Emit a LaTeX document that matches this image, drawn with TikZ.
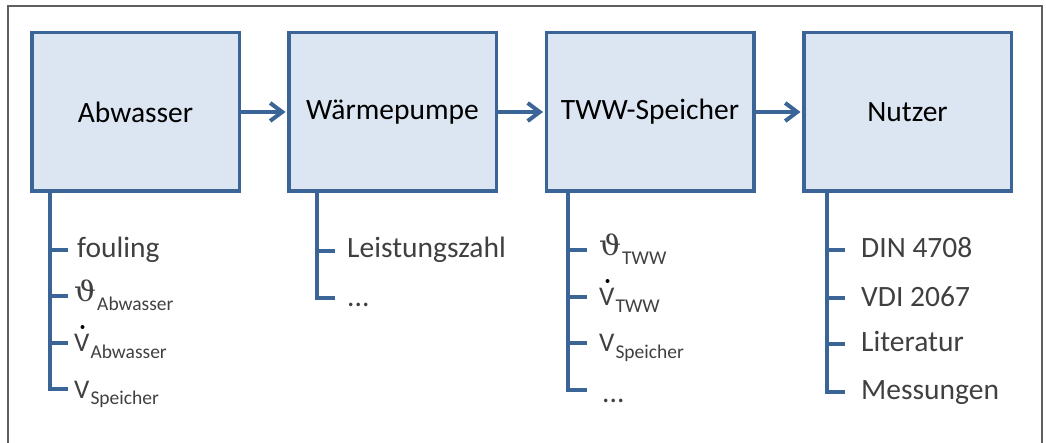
\documentclass[tikz,border=0pt]{standalone}
\usepackage{fontspec}
\setmainfont{Carlito}
\newfontfamily\thetafont{DejaVu Serif}
\usepackage{graphicx}
\usetikzlibrary{arrows.meta}

\definecolor{boxline}{HTML}{3B6497}
\definecolor{boxfill}{HTML}{DCE6F2}
\definecolor{leaftext}{HTML}{404040}
\definecolor{framegray}{HTML}{5F5F5F}

% symbols used in the parameter lists
\newcommand\leafV{{\fontsize{27}{27}\selectfont V}}
\newcommand\leaftheta{\scalebox{1.1}[1]{\thetafont\fontsize{28}{28}\selectfont ϑ}}
\newcommand\leafsub[2][6.5pt]{\kern1pt\raisebox{-#1}{\fontsize{19.5}{20}\selectfont #2}}

\begin{document}
\begin{tikzpicture}[x=1pt,y=-1pt,
  stage/.style={draw=boxline, fill=boxfill, line width=3.5pt,
    minimum width=207.5pt, minimum height=158.5pt, inner sep=0pt,
    font=\fontsize{29.5}{30}\selectfont, text=black},
  flow/.style={draw=boxline, line width=4pt, shorten >=1.5pt,
    -{Straight Barb[length=12pt,width=18pt,line width=4pt]}},
  trunk/.style={draw=boxline, line width=4pt, line join=miter, line cap=butt},
  leaf/.style={anchor=base west, inner sep=0pt, text=leaftext,
    font=\fontsize{29.5}{30}\selectfont},
  rate dot/.style={fill=black, radius=2pt}]

\useasboundingbox (0,0) rectangle (1046,443);

% outer frame (its lower edge lies below the visible area)
\draw[framegray, line width=1.5pt] (8,460) -- (8,6) -- (1042,6) -- (1042,460);

% process stages
\node[stage] (b1) at (135.5,112) {Abwasser};
\node[stage] (b2) at (392.5,112) {Wärmepumpe};
\node[stage] (b3) at (650,112)   {TWW-Speicher};
\node[stage] (b4) at (907.5,112) {Nutzer};

\draw[flow] (b1.east) -- (b2.west);
\draw[flow] (b2.east) -- (b3.west);
\draw[flow] (b3.east) -- (b4.west);

% --- Abwasser
\coordinate (a1) at (50,250);
\coordinate (a2) at (50,296);
\coordinate (a3) at (50,343);
\coordinate (a4) at (50,389);
\draw[trunk] (b1.south -| a4) -- (a4) -- ++(18,0);
\draw[trunk] (a1) -- ++(18,0);
\draw[trunk] (a2) -- ++(18,0);
\draw[trunk] (a3) -- ++(18,0);
\node[leaf] (a1t) at (77,258) {fouling};
\node[leaf] (a2t) at (74,302) {\leaftheta\leafsub[9pt]{Abwasser}};
\node[leaf] (a3t) at (74,352) {\leafV\leafsub{Abwasser}};
\node[leaf] (a4t) at (74,398) {\leafV\leafsub{Speicher}};
\fill[rate dot] (a3t.base west) ++(8.5,-25) circle;

% --- Wärmepumpe
\coordinate (w1) at (317,251);
\coordinate (w2) at (317,298);
\draw[trunk] (b2.south -| w2) -- (w2) -- ++(18,0);
\draw[trunk] (w1) -- ++(18,0);
\node[leaf] (w1t) at (347,258) {Leistungszahl};
\node[leaf] (w2t) at (347,307) {...};

% --- TWW-Speicher
\coordinate (s1) at (568,250);
\coordinate (s2) at (568,297);
\coordinate (s3) at (568,343);
\coordinate (s4) at (568,390);
\draw[trunk] (b3.south -| s4) -- (s4) -- ++(19,0);
\draw[trunk] (s1) -- ++(19,0);
\draw[trunk] (s2) -- ++(19,0);
\draw[trunk] (s3) -- ++(19,0);
\node[leaf] (s1t) at (599,256) {\leaftheta\leafsub[9pt]{TWW}};
\node[leaf] (s2t) at (599,306) {\leafV\leafsub{TWW}};
\node[leaf] (s3t) at (599,352) {\leafV\leafsub{Speicher}};
\node[leaf] (s4t) at (602,402) {...};
\fill[rate dot] (s2t.base west) ++(8.5,-25) circle;

% --- Nutzer
\coordinate (n1) at (827,250);
\coordinate (n2) at (827,298);
\coordinate (n3) at (827,344);
\coordinate (n4) at (827,392);
\draw[trunk] (b4.south -| n4) -- (n4) -- ++(18,0);
\draw[trunk] (n1) -- ++(18,0);
\draw[trunk] (n2) -- ++(18,0);
\draw[trunk] (n3) -- ++(18,0);
\node[leaf] (n1t) at (861,258) {DIN 4708};
\node[leaf] (n2t) at (861,307) {VDI 2067};
\node[leaf] (n3t) at (861,352) {Literatur};
\node[leaf] (n4t) at (861,399) {Messungen};
\end{tikzpicture}
\end{document}
